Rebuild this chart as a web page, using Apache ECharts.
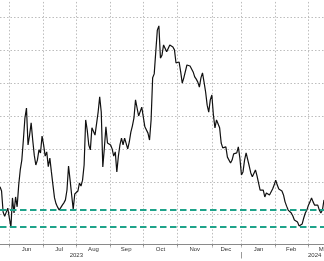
<!DOCTYPE html>
<html>
<head>
<meta charset="utf-8">
<script src="https://cdn.jsdelivr.net/npm/echarts@6/dist/echarts.min.js"></script>
<style>
  html, body { margin: 0; padding: 0; background: #ffffff; }
  #chart { width: 324px; height: 261px; }
</style>
</head>
<body>
<div id="chart"></div>
<script>
// ---- Data ----
// Trading days (weekdays, UK bank holidays removed), 23 May 2023 - 15 Mar 2024
const startDate = '2023-05-23';
const endDate = '2024-03-15';
const holidays = ['2023-05-29', '2023-08-28', '2023-12-25', '2023-12-26', '2024-01-01'];

// Series values, one per trading day
const values = [
  18.5, 17.2, 10.8, 9.5, 9.3, 12.0, 9.0, 6.3, 15.1, 10.5,
  15.4, 12.4, 19.0, 23.6, 26.6, 32.7, 39.4, 42.4, 31.2, 34.2,
  37.9, 32.7, 28.1, 25.1, 26.6, 29.7, 28.8, 33.9, 31.2, 27.8,
  29.1, 24.6, 27.2, 23.0, 19.0, 15.1, 13.3, 12.3, 11.4, 11.1,
  12.9, 13.6, 14.5, 17.5, 24.8, 20.5, 16.0, 11.7, 16.3, 15.7,
  17.2, 19.6, 18.7, 20.5, 25.1, 38.8, 35.7, 31.2, 29.7, 36.4,
  36.4, 34.2, 33.6, 41.2, 45.8, 41.2, 24.5, 30.3, 36.7, 31.8,
  31.8, 31.2, 30.0, 27.8, 29.1, 23.0, 27.8, 31.2, 33.3, 31.2,
  33.3, 32.7, 30.0, 32.1, 35.1, 37.0, 39.4, 44.9, 45.5, 40.0,
  39.4, 42.7, 42.4, 36.7, 36.7, 34.8, 32.7, 38.8, 51.6, 52.8,
  59.5, 66.1, 67.4, 57.6, 58.5, 61.6, 62.2, 59.5, 60.1, 61.6,
  61.3, 61.0, 60.1, 56.1, 56.4, 56.4, 53.4, 50.0, 51.6, 52.2,
  55.5, 56.1, 55.2, 54.6, 53.4, 51.9, 51.2, 50.3, 48.8, 51.6,
  53.1, 50.3, 47.3, 43.3, 41.2, 44.9, 46.4, 40.3, 36.4, 38.8,
  38.8, 36.4, 31.8, 30.3, 30.9, 30.6, 27.5, 28.1, 25.7, 26.6,
  28.5, 28.8, 28.8, 30.6, 27.2, 22.1, 23.0, 26.6, 28.8, 28.8,
  24.8, 22.7, 21.5, 22.1, 23.6, 21.8, 19.6, 17.5, 17.2, 17.5,
  15.4, 16.6, 17.2, 16.0, 16.9, 17.8, 19.0, 20.5, 19.0, 17.8,
  17.5, 17.2, 16.0, 13.9, 12.6, 11.4, 11.1, 10.5, 9.6, 8.4,
  9.0, 7.8, 6.6, 6.3, 7.2, 9.0, 10.5, 11.4, 12.9, 13.9,
  15.1, 13.9, 12.9, 12.3, 12.9, 11.4, 10.5, 11.4, 14.5
];

// Horizontal reference levels (teal dashed)
const levels = [11.6, 6.2];

// Tick labels
const monthLabels = ['Jun', 'Jul', 'Aug', 'Sep', 'Oct', 'Nov', 'Dec', 'Jan', 'Feb', 'Mar'];
const yearLabels = ['2023', '2024'];
const yearLabelDates = ['2023-08-01', '2024-03-07'];
const yearSeparatorDates = ['2024-01-02'];

// ---- Build trading-day categories ----
function fmt(d) {
  const m = String(d.getUTCMonth() + 1).padStart(2, '0');
  const dd = String(d.getUTCDate()).padStart(2, '0');
  return d.getUTCFullYear() + '-' + m + '-' + dd;
}
const dates = [];
{
  const s = new Date(startDate + 'T00:00:00Z');
  const e = new Date(endDate + 'T00:00:00Z');
  for (let d = new Date(s); d <= e; d.setUTCDate(d.getUTCDate() + 1)) {
    const wd = d.getUTCDay();
    const str = fmt(d);
    if (wd === 0 || wd === 6 || holidays.indexOf(str) >= 0) continue;
    dates.push(str);
  }
}

// month boundaries (first trading day of each month)
const boundaries = [];
for (let i = 1; i < dates.length; i++) {
  if (dates[i].slice(0, 7) !== dates[i - 1].slice(0, 7)) boundaries.push(i);
}
const boundarySet = new Set(boundaries);
const monthLabelAt = {};
boundaries.forEach((b, k) => {
  const next = k + 1 < boundaries.length ? boundaries[k + 1] : dates.length - 1 + 21 - (dates.length - 1 - b);
  let mid = Math.floor((b + next) / 2);
  if (mid > dates.length - 1) mid = dates.length - 1;
  monthLabelAt[mid] = monthLabels[k];
});
const yearLabelAt = {};
yearLabelDates.forEach((d, k) => { yearLabelAt[dates.indexOf(d)] = yearLabels[k]; });
const yearSepSet = new Set(yearSeparatorDates.map(d => dates.indexOf(d)));

const chart = echarts.init(document.getElementById('chart'), null, { renderer: 'canvas' });
const textFont = 'Liberation Sans, Arial, sans-serif';

chart.setOption({
  animation: false,
  backgroundColor: '#ffffff',
  grid: { left: 0, right: 0, top: -15.6, bottom: 13.4, containLabel: false, outerBoundsMode: 'none' },
  xAxis: [
    {
      type: 'category',
      data: dates,
      boundaryGap: false,
      position: 'bottom',
      offset: -3.6,
      axisLine: { show: true, lineStyle: { color: '#8a8a8a', width: 1 } },
      axisTick: { show: true, length: 2.5, interval: (i) => boundarySet.has(i), lineStyle: { color: '#8a8a8a' } },
      splitLine: { show: true, interval: (i) => boundarySet.has(i), lineStyle: { color: '#bdbdbd', width: 1, type: [1.5, 2] } },
      axisLabel: {
        show: true,
        interval: (i) => monthLabelAt[i] !== undefined,
        formatter: (v, i) => monthLabelAt[dates.indexOf(v)] || '',
        margin: 2,
        fontSize: 6,
        color: '#333',
        fontFamily: textFont
      }
    },
    {
      type: 'category',
      data: dates,
      boundaryGap: false,
      position: 'bottom',
      offset: 4.4,
      axisLine: { show: false },
      axisTick: { show: true, length: 6.5, interval: (i) => yearSepSet.has(i), lineStyle: { color: '#9a9a9a' } },
      splitLine: { show: false },
      axisLabel: {
        show: true,
        interval: (i) => yearLabelAt[i] !== undefined,
        formatter: (v) => yearLabelAt[dates.indexOf(v)] || '',
        margin: 0.5,
        fontSize: 6,
        color: '#333',
        fontFamily: textFont
      }
    }
  ],
  yAxis: {
    type: 'value',
    min: 0,
    max: 80,
    interval: 10,
    axisLine: { show: false },
    axisTick: { show: false },
    axisLabel: { show: false },
    splitLine: { show: true, showMinLine: false, showMaxLine: false, lineStyle: { color: '#bdbdbd', width: 1, type: [1.5, 2] } }
  },
  series: [
    {
      type: 'line',
      xAxisIndex: 0,
      data: values,
      showSymbol: false,
      symbol: 'none',
      lineStyle: { color: '#111111', width: 1.2 },
      markLine: {
        silent: true,
        symbol: 'none',
        label: { show: false },
        lineStyle: { color: '#1fa38a', width: 2, type: [6.5, 3.5] },
        data: levels.map(v => ({ yAxis: v }))
      }
    }
  ]
});
</script>
</body>
</html>
